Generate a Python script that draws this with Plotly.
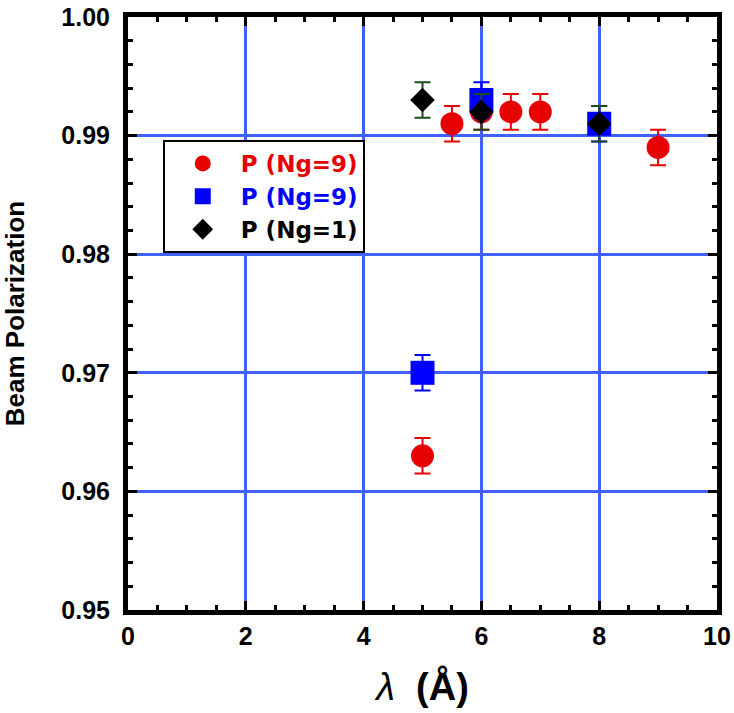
import plotly.graph_objects as go

# Data
red_x = [5, 5.5, 6, 6.5, 7, 9]
red_y = [0.963, 0.991, 0.992, 0.992, 0.992, 0.989]
red_err = [0.0015, 0.0015, 0.0015, 0.0015, 0.0015, 0.0015]

blue_x = [5, 6, 8]
blue_y = [0.970, 0.993, 0.991]
blue_err = [0.0015, 0.0015, 0.0015]

black_x = [5, 6, 8]
black_y = [0.993, 0.992, 0.991]
black_err = [0.0015, 0.0015, 0.0015]

RED = "#e60000"
BLUE = "#0000ff"
BLACK = "#000000"
GREEN = "#1c4f1c"
GRID = "#4060ff"
FONT = "Liberation Sans, Arial, sans-serif"
LEGEND_FONT = "DejaVu Sans, Liberation Sans, Arial, sans-serif"

fig = go.Figure()
fig.add_trace(go.Scatter(
    x=red_x, y=red_y, mode="markers",
    name="<b><span style='color:#e60000'>P (Ng=9)</span></b>",
    marker=dict(symbol="circle", size=23, color=RED),
    error_y=dict(type="data", array=red_err, color=RED, thickness=2, width=8),
))
fig.add_trace(go.Scatter(
    x=blue_x, y=blue_y, mode="markers",
    name="<b><span style='color:#0000ff'>P (Ng=9)</span></b>",
    marker=dict(symbol="square", size=24, color=BLUE),
    error_y=dict(type="data", array=blue_err, color=BLUE, thickness=2, width=8),
))
fig.add_trace(go.Scatter(
    x=black_x, y=black_y, mode="markers",
    name="<b><span style='color:#000000'>P (Ng=1)</span></b>",
    marker=dict(symbol="diamond", size=19, color=BLACK),
    error_y=dict(type="data", array=black_err, color=GREEN, thickness=2, width=8),
))

axis_common = dict(
    showline=True, linecolor="black", linewidth=5, mirror="allticks",
    ticks="inside", ticklen=9, tickwidth=3, tickcolor="black",
    showgrid=True, gridcolor=GRID, gridwidth=3, zeroline=False,
    automargin=False, ticklabeloverflow="allow",
    tickfont=dict(family=FONT, size=25, color="black", weight="bold"),
)

fig.update_xaxes(
    range=[0, 10], tick0=0, dtick=2,
    minor=dict(dtick=0.5, ticks="inside", ticklen=5, tickwidth=3, tickcolor="black", showgrid=False),
    title=dict(text="<i>λ</i>  <b>(Å)</b>", font=dict(family=FONT, size=38, color="black"), standoff=26),
    ticklabelstandoff=0,
    **axis_common,
)
fig.update_yaxes(
    range=[0.95, 1.00], tick0=0.95, dtick=0.01, tickformat=".2f",
    minor=dict(dtick=0.002, ticks="inside", ticklen=5, tickwidth=3, tickcolor="black", showgrid=False),
    title=dict(text="<b>Beam Polarization</b>", font=dict(family=FONT, size=26, color="black"), standoff=34),
    ticklabelstandoff=8,
    **axis_common,
)

fig.update_layout(
    width=734, height=713,
    margin=dict(l=128, r=17, t=17, b=103),
    plot_bgcolor="white", paper_bgcolor="white",
    font=dict(family=FONT, color="black"),
    legend=dict(
        x=0.059, y=0.7926, xanchor="left", yanchor="top",
        bgcolor="white", bordercolor="black", borderwidth=2,
        font=dict(family=LEGEND_FONT, size=23, color="black"),
        itemwidth=66,
    ),
)

fig.write_html("out.html", config={"displayModeBar": False},
               post_script="document.body.style.margin='0px';")
